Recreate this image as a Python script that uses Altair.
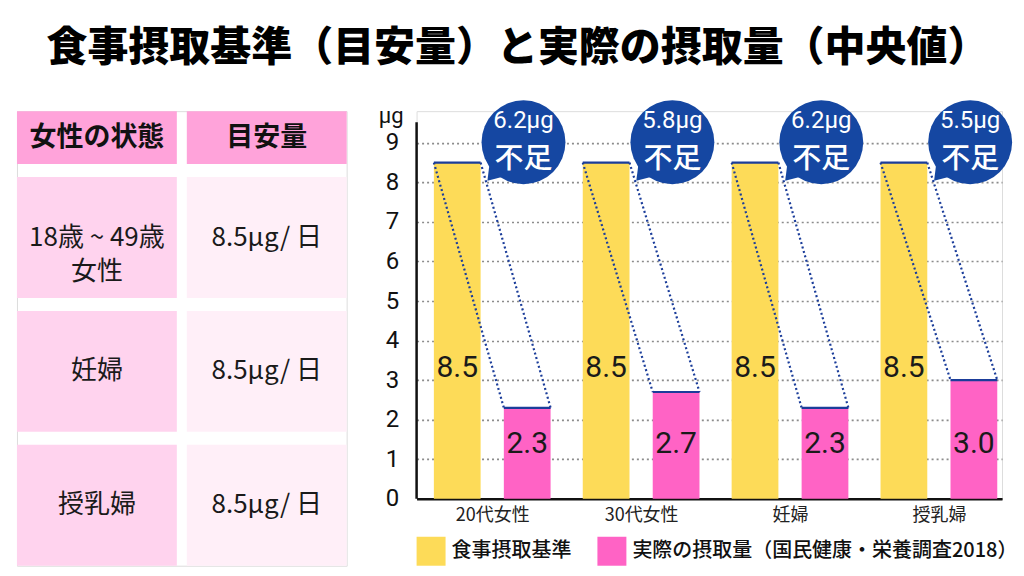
import json
import altair as alt
import pandas as pd

# ---------------- data ----------------
TITLE = "食事摂取基準（目安量）と実際の摂取量（中央値）"
categories = ["20代女性", "30代女性", "妊婦", "授乳婦"]
standard = [8.5, 8.5, 8.5, 8.5]
actual = [2.3, 2.7, 2.3, 3.0]
shortfall = ["6.2μg", "5.8μg", "6.2μg", "5.5μg"]
shortfall_word = "不足"
series = ["食事摂取基準", "実際の摂取量（国民健康・栄養調査2018）"]
y_ticks = [0, 1, 2, 3, 4, 5, 6, 7, 8, 9]
y_unit = "μg"

table_headers = ["女性の状態", "目安量"]
table_states = ["18歳 ~ 49歳\n女性", "妊婦", "授乳婦"]
table_amounts = ["8.5μg/ 日", "8.5μg/ 日", "8.5μg/ 日"]

# ---------------- style / layout ----------------
JP = "Noto Sans CJK JP"
NUM = "Roboto"
YELLOW = "#FDDB58"
PINK = "#FF63C5"
NAVY = "#1b3d9a"
BUBBLE = "#1547a2"
HEAD_FILL = "#FFA3DA"
LEFT_FILL = "#FFD3EE"
RIGHT_FILL = "#FFEFF8"

HEAD_H, BODY_H, GAP = 53, 121, 13
TABLE_W = 330
TABLE_H = HEAD_H + 3 * BODY_H + 3 * GAP

BAR_OUT, BAR_IN = 0.392, 0.078     # bar edges relative to group centre (x units)
BUBBLE_DX = 0.21
BUBBLE_Y, BUBBLE_T1, BUBBLE_T2 = 9.015, 9.56, 8.59
LABEL_STD_Y, LABEL_ACT_Y = 3.3, 1.38
Y_TOP, AXIS_TOP = 9.8, 9.52
X_DOM = [-0.508, 3.424]

# ---------------- table ----------------
rows = []
for c, h in enumerate(table_headers):
    rows.append(dict(col=table_headers[c], top=0, bottom=HEAD_H, text=h,
                     fill=HEAD_FILL, kind="head"))
for k in range(3):
    t = HEAD_H + GAP + k * (BODY_H + GAP)
    rows.append(dict(col=table_headers[0], top=t, bottom=t + BODY_H,
                     text=table_states[k], fill=LEFT_FILL, kind="body"))
    rows.append(dict(col=table_headers[1], top=t, bottom=t + BODY_H,
                     text=table_amounts[k], fill=RIGHT_FILL, kind="body"))
cells = pd.DataFrame(rows)
cells["mid"] = (cells["top"] + cells["bottom"]) / 2

tx = alt.X("col:N", scale=alt.Scale(domain=table_headers, paddingInner=0.0588,
                                     paddingOuter=0), axis=None)
ty_scale = alt.Scale(domain=[0, TABLE_H], reverse=True, nice=False, zero=False)

t_rect = alt.Chart(cells).mark_rect().encode(
    x=tx,
    y=alt.Y("top:Q", scale=ty_scale, axis=None),
    y2="bottom:Q",
    fill=alt.Fill("fill:N", scale=None),
)
t_head = alt.Chart(cells).transform_filter("datum.kind == 'head'").mark_text(
    font=JP, fontSize=27, fontWeight="bold", color="#111", baseline="middle"
).encode(x=tx, y=alt.Y("mid:Q", scale=ty_scale, axis=None), text="text:N")
t_body = alt.Chart(cells).transform_filter("datum.kind == 'body'").mark_text(
    font=JP, fontSize=26, color="#1a1a1a", baseline="middle",
    lineBreak="\n", lineHeight=35
).encode(x=tx, y=alt.Y("mid:Q", scale=ty_scale, axis=None), text="text:N")

table = alt.layer(t_rect, t_head, t_body).properties(width=TABLE_W, height=TABLE_H)

# ---------------- bar chart ----------------
bar_rows, conn_rows, bub_rows = [], [], []
for i, cat in enumerate(categories):
    bar_rows.append(dict(cat=cat, series=series[0], value=standard[i],
                         x0=i - BAR_OUT, x1=i - BAR_IN, ly=LABEL_STD_Y,
                         label=f"{standard[i]:.1f}"))
    bar_rows.append(dict(cat=cat, series=series[1], value=actual[i],
                         x0=i + BAR_IN, x1=i + BAR_OUT, ly=LABEL_ACT_Y,
                         label=f"{actual[i]:.1f}"))
    conn_rows.append(dict(xa=i - BAR_OUT, ya=standard[i], xb=i + BAR_IN, yb=actual[i]))
    conn_rows.append(dict(xa=i - BAR_IN, ya=standard[i], xb=i + BAR_OUT, yb=actual[i]))
    bub_rows.append(dict(xb=i + BUBBLE_DX, amount=shortfall[i], word=shortfall_word))
bars_df = pd.DataFrame(bar_rows)
bars_df["xm"] = (bars_df["x0"] + bars_df["x1"]) / 2
conn_df = pd.DataFrame(conn_rows)
bub_df = pd.DataFrame(bub_rows)

xs = alt.Scale(domain=X_DOM, nice=False, zero=False)
ys = alt.Scale(domain=[0, Y_TOP], nice=False, zero=False)

x_axis = alt.Axis(values=[0, 1, 2, 3], labelExpr=json.dumps(categories) + "[datum.value]",
                  grid=False, ticks=False, domain=True, domainColor="#111",
                  domainWidth=2.5, labelFont=JP, labelFontSize=18, labelColor="#222",
                  labelPadding=8, title=None)
y_axis = alt.Axis(values=y_ticks, grid=True, gridDash=[2, 3], gridColor="#8c8c8c",
                  gridWidth=1.6, ticks=False, domain=False, labelFont=NUM,
                  labelFontSize=24, labelColor="#111", labelPadding=18,
                  title=y_unit, titleAngle=0, titleX=-26, titleY=4,
                  titleAlign="center", titleBaseline="middle", titleFont=NUM,
                  titleFontSize=22, titleFontWeight="normal", titleColor="#111")


def X(field):
    return alt.X(field, type="quantitative", scale=xs, axis=x_axis)


def Y(field):
    return alt.Y(field, type="quantitative", scale=ys, axis=y_axis)


bars = alt.Chart(bars_df).mark_rect().encode(
    x=X("x0"),
    x2="x1:Q",
    y=Y("value"),
    y2=alt.datum(0),
    color=alt.Color("series:N", scale=alt.Scale(domain=series, range=[YELLOW, PINK]),
                    legend=alt.Legend(orient="none", legendX=0, legendY=426,
                                      direction="horizontal", title=None,
                                      symbolType="square", symbolSize=841,
                                      symbolStrokeWidth=0, symbolOpacity=1,
                                      labelFont=JP, labelFontSize=20,
                                      labelFontWeight=500, labelColor="#111",
                                      labelOffset=6, columnPadding=26,
                                      labelLimit=800)),
)
tops = alt.Chart(bars_df).mark_rule(color=NAVY, strokeWidth=2.2).encode(
    x=X("x0"), x2="x1:Q", y=Y("value"),
)
conns = alt.Chart(conn_df).mark_rule(color=NAVY, strokeWidth=2.2,
                                     strokeDash=[2, 2.6]).encode(
    x=X("xa"), x2="xb:Q", y=Y("ya"), y2="yb:Q",
)
yline = alt.Chart(pd.DataFrame({"a": [0]})).mark_rule(color="#111", strokeWidth=2.5).encode(
    x=alt.value(0), y=alt.datum(0, scale=ys, axis=y_axis), y2=alt.datum(AXIS_TOP),
)
vals = alt.Chart(bars_df).mark_text(font=NUM, fontSize=30, color="#1a1a1a",
                                    baseline="middle").encode(
    x=X("xm"), y=Y("ly"), text="label:N",
)
circ = alt.Chart(bub_df).mark_point(shape="circle", filled=True, size=7056,
                                    opacity=1, color=BUBBLE).encode(
    x=X("xb"), y=alt.datum(BUBBLE_Y, scale=ys, axis=y_axis),
)
tail = alt.Chart(bub_df).mark_point(shape="M -0.8 0.45 L -0.86 0.92 L -0.4 0.8 Z",
                                    filled=True, size=7056, opacity=1,
                                    color=BUBBLE).encode(
    x=X("xb"), y=alt.datum(BUBBLE_Y, scale=ys, axis=y_axis),
)
bt1 = alt.Chart(bub_df).mark_text(font=NUM, fontSize=24, color="white",
                                  baseline="middle").encode(
    x=X("xb"), y=alt.datum(BUBBLE_T1, scale=ys, axis=y_axis), text="amount:N",
)
bt2 = alt.Chart(bub_df).mark_text(font=JP, fontSize=29, color="white",
                                  fontWeight=500, baseline="middle").encode(
    x=X("xb"), y=alt.datum(BUBBLE_T2, scale=ys, axis=y_axis), text="word:N",
)

barchart = alt.layer(bars, tops, conns, yline, vals, circ, tail, bt1, bt2).properties(
    width=586, height=388
)

chart = alt.hconcat(table, barchart, spacing=70, bounds="flush").resolve_scale(
    x="independent", y="independent", color="independent"
).resolve_legend(color="independent").properties(
    title=alt.Title(TITLE, anchor="start", dx=30, fontSize=41, font=JP,
                    fontWeight=900, color="#000", offset=30),
    padding={"left": 16, "top": 27, "right": 5, "bottom": 5},
    background="white",
).configure_view(stroke=None).configure(font=JP)

chart.save("out.html", embed_options={"renderer": "svg", "actions": False})
